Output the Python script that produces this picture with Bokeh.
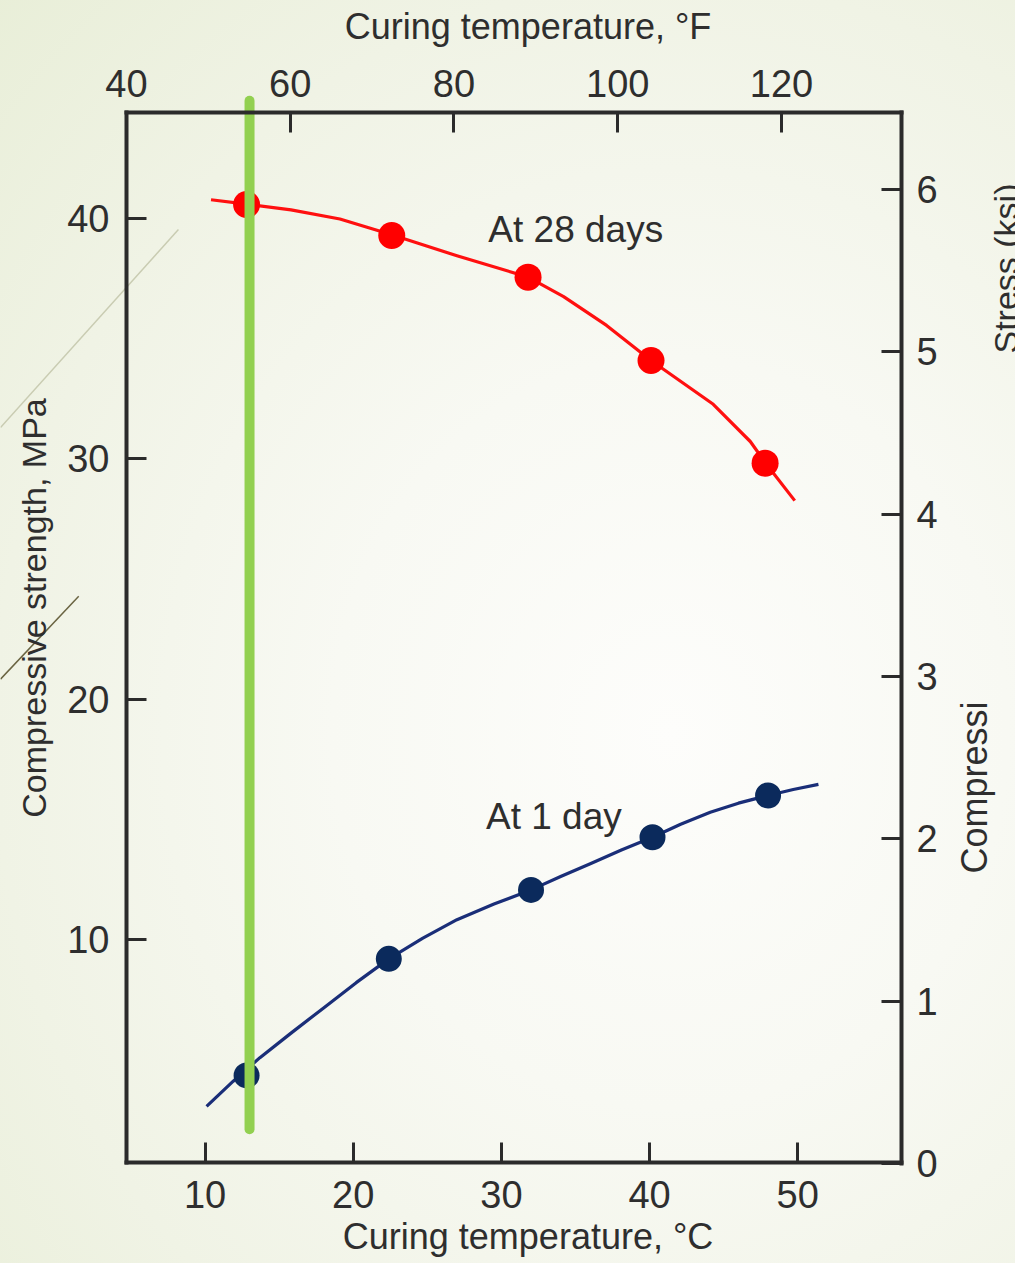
import numpy as np
from bokeh.plotting import figure
from bokeh.models import Range1d, LinearAxis, FixedTicker, Label
from bokeh.embed import file_html
from bokeh.resources import INLINE

# ---------------- data ----------------
temp_c_28d = [12.8, 22.6, 31.8, 40.1, 47.8]
strength_28d = [40.58, 39.29, 37.56, 34.09, 29.82]
temp_c_1d = [12.8, 22.4, 32.0, 40.2, 48.0]
strength_1d = [4.34, 9.19, 12.06, 14.25, 15.99]

curve_28d_temp = [10.4, 12.8, 15.8, 19.1, 22.6, 27.0, 31.8, 34.2, 37.1, 40.1, 44.3, 46.8, 47.8, 49.8]
curve_28d_strength = [40.78, 40.60, 40.36, 39.98, 39.32, 38.45, 37.56, 36.75, 35.55, 34.09, 32.27, 30.72, 29.85, 28.26]
curve_1d_temp = [10.1, 11.9, 13.7, 15.8, 18.0, 20.2, 22.4, 24.7, 27.0, 29.5, 32.0, 34.0, 36.0,
                 38.1, 40.2, 42.1, 44.1, 46.0, 48.0, 49.7, 51.4]
curve_1d_strength = [3.05, 4.10, 5.08, 6.10, 7.15, 8.20, 9.19, 10.05, 10.82, 11.47, 12.06, 12.62, 13.15,
                     13.72, 14.25, 14.79, 15.29, 15.67, 15.99, 16.24, 16.45]

ticks_c = [10, 20, 30, 40, 50]
ticks_f = [40, 60, 80, 100, 120]
ticks_mpa = [10, 20, 30, 40]
ticks_ksi = [0, 1, 2, 3, 4, 5, 6]

marker_temp_c = [13.0, 13.0]
marker_span_mpa = [2.1, 44.9]

# frame limits in each unit (layout)
FRAME_C = (4.69, 57.0)
FRAME_MPA = (0.72, 44.41)
FRAME_F = (40.0, 134.66)
FRAME_KSI = (0.0, 6.474)

FONT = "Liberation Sans"
TXT = "#2e2e2e"
AX = "#2b2b2b"

p = figure(width=1015, height=1263, output_backend="svg", toolbar_location=None,
           x_range=Range1d(-3.810, 64.702), y_range=Range1d(-3.487, 49.072),
           min_border=0, x_axis_location=None, y_axis_location=None)
p.extra_x_ranges = {"F": Range1d(24.611, 148.58)}
p.extra_y_ranges = {"ksi": Range1d(-0.616, 7.1644)}
p.title.visible = False

p.border_fill_alpha = 0
p.background_fill_alpha = 0
p.outline_line_color = None
p.styles = {"background": "radial-gradient(ellipse 95% 85% at 66% 58%, #fdfdfb 0%, #f8f9f3 35%, #f0f3e5 70%, #e8eed7 100%)"}
p.xgrid.visible = False
p.ygrid.visible = False


def add_axis(side, ticks, standoff, fixed, bounds, **kw):
    ax = LinearAxis(fixed_location=fixed, bounds=bounds, **kw)
    ax.ticker = FixedTicker(ticks=ticks)
    ax.axis_line_color = AX
    ax.axis_line_width = 4
    ax.axis_line_cap = "square"
    ax.major_tick_line_color = AX
    ax.major_tick_line_width = 3
    ax.major_tick_in = 20
    ax.major_tick_out = 0
    ax.minor_tick_line_color = None
    ax.major_label_text_font = FONT
    ax.major_label_text_font_size = "38px"
    ax.major_label_text_color = TXT
    ax.major_label_standoff = standoff
    p.add_layout(ax, side)


add_axis("below", ticks_c, 19, FRAME_MPA[0], FRAME_C)
add_axis("left", ticks_mpa, 17, FRAME_C[0], FRAME_MPA)
add_axis("above", ticks_f, 16, FRAME_MPA[1], FRAME_F, x_range_name="F")
add_axis("right", ticks_ksi, 15, FRAME_C[1], FRAME_KSI, y_range_name="ksi")

# decorative slide lines
p.line([-3.81, 8.20], [31.30, 39.54], line_color="#c9ccb2", line_width=1.5)
p.line([-3.81, 1.47], [20.83, 24.28], line_color="#6a6442", line_width=1.5)

# curves and points
p.line(curve_28d_temp, curve_28d_strength, line_color="#ff1010", line_width=3.2, line_join="round")
p.line(curve_1d_temp, curve_1d_strength, line_color="#1a2e78", line_width=3.2, line_join="round")
p.scatter(temp_c_28d, strength_28d, size=27, fill_color="#ff0000", line_color=None)
p.scatter(temp_c_1d, strength_1d, size=26, fill_color="#0b2a5c", line_color=None)

# green marker line
p.line(marker_temp_c, marker_span_mpa, line_color="#92d050", line_width=10, line_cap="round")

# annotations
p.add_layout(Label(x=35.02, y=39.54, text="At 28 days", text_font=FONT, text_font_size="37px",
                   text_color=TXT, text_align="center", text_baseline="alphabetic"))
p.add_layout(Label(x=33.54, y=15.11, text="At 1 day", text_font=FONT, text_font_size="37px",
                   text_color=TXT, text_align="center", text_baseline="alphabetic"))

# axis titles
p.add_layout(Label(x=31.80, y=47.99, text="Curing temperature, °F", text_font=FONT,
                   text_font_size="36px", text_color=TXT, text_align="center", text_baseline="alphabetic"))
p.add_layout(Label(x=31.80, y=-2.36, text="Curing temperature, °C", text_font=FONT,
                   text_font_size="36px", text_color=TXT, text_align="center", text_baseline="alphabetic"))
p.add_layout(Label(x=-1.58, y=23.79, text="Compressive strength, MPa", text_font=FONT,
                   text_font_size="34px", text_color=TXT, text_align="center", text_baseline="alphabetic",
                   angle=np.pi / 2))
p.add_layout(Label(x=61.93, y=12.74, text="Compressi", text_font=FONT,
                   text_font_size="36px", text_color=TXT, text_align="left", text_baseline="alphabetic",
                   angle=np.pi / 2))
p.add_layout(Label(x=64.09, y=34.38, text="Stress (ksi)", text_font=FONT,
                   text_font_size="34px", text_color=TXT, text_align="left", text_baseline="alphabetic",
                   angle=np.pi / 2))

open("out.html", "w").write(file_html(p, INLINE))
